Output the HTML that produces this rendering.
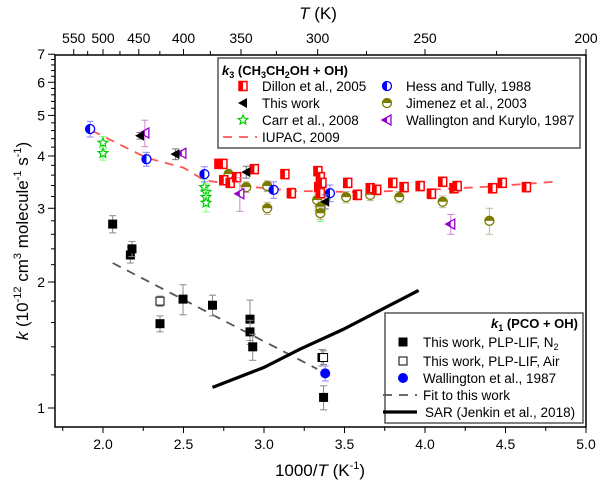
<!DOCTYPE html>
<html><head><meta charset="utf-8"><style>
body{margin:0;background:#fff}
svg{display:block;font-family:"Liberation Sans",Arial,sans-serif}
</style></head><body>
<svg id="chart" width="600" height="486" viewBox="0 0 600 486" xmlns="http://www.w3.org/2000/svg">
<g id="axes"></g>
<g id="series"></g>
<g id="legend1"></g>
<g id="legend2"></g>
<text x="318" y="19" font-size="17" text-anchor="middle"><tspan font-style="italic">T</tspan> (K)</text>
<text x="320" y="476" font-size="17" text-anchor="middle">1000/<tspan font-style="italic">T</tspan>  (K<tspan font-size="11" dy="-7">-1</tspan><tspan dy="7">)</tspan></text>
<text transform="translate(28,241) rotate(-90)" font-size="17" text-anchor="middle"><tspan font-style="italic">k</tspan> (10<tspan font-size="11" dy="-7">-12</tspan><tspan dy="7"> cm</tspan><tspan font-size="11" dy="-7">3</tspan><tspan dy="7"> molecule</tspan><tspan font-size="11" dy="-7">-1</tspan><tspan dy="7"> s</tspan><tspan font-size="11" dy="-7">-1</tspan><tspan dy="7">)</tspan></text>
</svg>
<script>
// ---- data ----
const xTicks=[2.0,2.5,3.0,3.5,4.0,4.5,5.0];
const yTicks=[1,2,3,4,5,6,7];
const topTicks=[550,500,450,400,350,300,250,200];
const dillonX=[2.72,2.745,2.75,2.79,2.83,2.94,3.13,3.17,3.335,3.35,3.34,3.35,3.36,3.52,3.58,3.66,3.70,3.80,3.87,3.97,4.04,4.11,4.18,4.20,4.42,4.48,4.63];
const dillonK=[3.83,3.83,3.50,3.45,3.56,3.72,3.62,3.26,3.68,3.56,3.37,3.26,3.45,3.45,3.23,3.35,3.32,3.45,3.37,3.39,3.25,3.47,3.35,3.39,3.35,3.45,3.37];
const jimX=[2.78,2.89,3.02,3.02,3.33,3.35,3.35,3.51,3.66,3.84,4.11,4.40];
const jimK=[3.62,3.37,3.39,3.00,3.14,3.02,2.92,3.19,3.23,3.19,3.11,2.80];
const jimErr=[0.1,0.1,0.1,0.1,0.1,0.1,0.1,0.1,0.1,0.1,0.1,0.2];
const hessX=[1.92,2.27,2.63,3.06,3.41];
const hessK=[4.64,3.93,3.62,3.32,3.26];
const hessErr=[0.2,0.15,0.15,0.15,0.15];
const triX=[2.23,2.45,2.89,3.38];
const triK=[4.47,4.04,3.66,3.11];
const triErr=[0.08,0.12,0.12,0.12];
const wkX=[2.26,2.49,2.85,4.16];
const wkK=[4.54,4.06,3.25,2.75];
const wkErr=[0.33,0.06,0.3,0.15];
const carrX=[2.00,2.00,2.63,2.64,2.64,2.64,3.35,3.35];
const carrK=[4.30,4.06,3.37,3.28,3.19,3.09,3.06,2.94];
const iupacX=[1.93,2.27,2.5,2.63,2.9,3.2,3.6,4.0,4.4,4.8];
const iupacK=[4.6,3.96,3.75,3.5,3.38,3.3,3.28,3.32,3.38,3.47];
const k1X=[2.06,2.17,2.18,2.354,2.497,2.68,2.913,2.913,2.93,3.36,3.37];
const k1K=[2.75,2.32,2.40,1.59,1.82,1.76,1.63,1.52,1.40,1.32,1.06];
const k1Err=[0.13,0.1,0.1,0.07,0.15,0.1,0.18,0.1,0.1,0.06,0.07];
const airX=[2.354,3.37];
const airK=[1.80,1.32];
const wallX=[3.38];
const wallK=[1.21];
const fitX=[2.06,3.33];
const fitK=[2.22,1.24];
const sarX=[2.68,3.0,3.22,3.49,3.96];
const sarK=[1.12,1.25,1.38,1.54,1.91];

// ---- scales ----
const L=55,R=586,T=55,B=427;
const xs=v=>103+(v-2)*161;
const ys=k=>408-418.6*Math.log10(k);
const NS='http://www.w3.org/2000/svg';
function mk(tag,attrs,parent){const e=document.createElementNS(NS,tag);for(const a in attrs)e.setAttribute(a,attrs[a]);parent.appendChild(e);return e;}
const ax=document.getElementById('axes'),S=document.getElementById('series');

let fr=mk('rect',{x:L,y:T,width:R-L,height:B-T,fill:'none',stroke:'#000','stroke-width':1.5},ax);


for(let v=1.75;v<=5.001;v+=0.25){const x=xs(v);const major=Math.abs(v*2-Math.round(v*2))<1e-6;
 let t=mk('line',{x1:x,x2:x,y1:B,y2:B+(major?6:4),stroke:'#000','stroke-width':1},ax);
 
 }
xTicks.forEach(v=>{let t=mk('text',{x:xs(v),y:B+22,'font-size':14,'text-anchor':'middle'},ax);t.textContent=v.toFixed(1);
 
 });
for(let Tk=550;Tk>=200;Tk-=25){const x=xs(1000/Tk);const major=Tk%50===0;
 let t=mk('line',{x1:x,x2:x,y1:T,y2:T-(major?6:4),stroke:'#000','stroke-width':1},ax);
 
 }
topTicks.forEach(Tk=>{let t=mk('text',{x:xs(1000/Tk),y:T-12,'font-size':14,'text-anchor':'middle'},ax);t.textContent=Tk;
 
 });
for(let k=0.9;k<=7.001;k+=0.1){const r=Math.round(k*10)/10;const major=Math.abs(r-Math.round(r))<1e-6;
 if(!major && Math.round(r*10)%2!==0 && r>1) continue;
 const y=ys(r);if(y>B)continue;
 let t=mk('line',{x1:L,x2:L-(major?7:4),y1:y,y2:y,stroke:'#000','stroke-width':1},ax);
 
 }
yTicks.forEach(k=>{let t=mk('text',{x:L-10,y:ys(k)+5,'font-size':14,'text-anchor':'end'},ax);t.textContent=k;
 
 });

function err(x,k,e,col,g){const X=xs(x),y1=ys(k+e),y2=ys(k-e);
 mk('line',{x1:X,x2:X,y1:y1,y2:y2,stroke:col,'stroke-width':1},g);
 mk('line',{x1:X-3.5,x2:X+3.5,y1:y1,y2:y1,stroke:col,'stroke-width':1},g);
 mk('line',{x1:X-3.5,x2:X+3.5,y1:y2,y2:y2,stroke:col,'stroke-width':1},g);}
const M={
 halfSq:(X,Y,g)=>{mk('rect',{x:X-4,y:Y-4.5,width:8,height:9,fill:'#fff',stroke:'#f00','stroke-width':1.5},g);mk('rect',{x:X-4,y:Y-4.5,width:4,height:9,fill:'#f00'},g);},
 halfCircL:(X,Y,g,c)=>{mk('circle',{cx:X,cy:Y,r:4.5,fill:'#fff',stroke:c,'stroke-width':1.3},g);mk('path',{d:`M${X},${Y-4.5}A4.5,4.5 0 0 0 ${X},${Y+4.5}Z`,fill:c},g);},
 halfCircT:(X,Y,g,c)=>{mk('circle',{cx:X,cy:Y,r:4.5,fill:'#fff',stroke:c,'stroke-width':1.3},g);mk('path',{d:`M${X-4.5},${Y}A4.5,4.5 0 0 1 ${X+4.5},${Y}Z`,fill:c},g);},
 tri:(X,Y,g,c)=>{mk('polygon',{points:`${X-5},${Y} ${X+4},${Y-5} ${X+4},${Y+5}`,fill:c},g);},
 halfTri:(X,Y,g,c)=>{mk('polygon',{points:`${X-5},${Y} ${X+4},${Y-5} ${X+4},${Y+5}`,fill:'#fff',stroke:c,'stroke-width':1.3},g);mk('polygon',{points:`${X-5},${Y} ${X},${Y-2.8} ${X},${Y+2.8}`,fill:c},g);},
 star:(X,Y,g,c)=>{let p=[];for(let i=0;i<10;i++){const r=i%2?2.2:5,a=-Math.PI/2+i*Math.PI/5;p.push((X+r*Math.cos(a)).toFixed(1)+','+(Y+r*Math.sin(a)).toFixed(1));}mk('polygon',{points:p.join(' '),fill:'#fff',stroke:c,'stroke-width':1.2},g);},
 sq:(X,Y,g)=>{mk('rect',{x:X-4.5,y:Y-4.5,width:9,height:9,fill:'#000'},g);},
 osq:(X,Y,g)=>{mk('rect',{x:X-4,y:Y-4,width:8,height:8,fill:'#fff',stroke:'#000','stroke-width':1},g);},
 dot:(X,Y,g)=>{mk('circle',{cx:X,cy:Y,r:5,fill:'#00f'},g);}
};
function line(xa,ka,attrs,name){let d=xa.map((x,i)=>(i?'L':'M')+xs(x).toFixed(1)+','+ys(ka[i]).toFixed(1)).join('');
 let p=mk('path',Object.assign({d:d,fill:'none'},attrs),S);
 
 }
function scatter(xa,ka,ea,ecol,fn,col,name){const g=mk('g',{},S);
 
 
 xa.forEach((x,i)=>{if(ea)err(x,ka[i],ea[i],ecol,g);M[fn](xs(x),ys(ka[i]),g,col);});}

line(iupacX,iupacK,{stroke:'#f55','stroke-width':1.8,'stroke-dasharray':'9,7'},'iupac-line');
line(fitX,fitK,{stroke:'#555','stroke-width':1.8,'stroke-dasharray':'9,7'},'fit-line');
line(sarX,sarK,{stroke:'#000','stroke-width':3.2},'sar-line');
scatter(carrX,carrK,carrK.map(()=>0.15),'#7f7',"star",'#0c0','carr-points');
scatter(jimX,jimK,jimErr,'#bb9','halfCircT','#7a7a00','jimenez-points');
scatter(dillonX,dillonK,dillonK.map(()=>0.09),'#f88','halfSq','#f00','dillon-points');
scatter(hessX,hessK,hessErr,'#88f','halfCircL','#00f','hess-points');
scatter(wkX,wkK,wkErr,'#c8c','halfTri','#90c','wallington-kurylo-points');
scatter(triX,triK,triErr,'#777','tri','#000','this-work-k3-points');
scatter(k1X,k1K,k1Err,'#888','sq','#000','k1-n2-points');
scatter(airX,airK,[0.05,0.05],'#888','osq','#000','k1-air-points');
scatter(wallX,wallK,[0.05],'#88f','dot','#00f','wallington-1987-points');

function legend(gid,box,title,items){const g=document.getElementById(gid);
 mk('rect',Object.assign({fill:'#fff',stroke:'#555','stroke-width':1.5},box),g);
 let t=mk('text',title.attrs,g);t.innerHTML=title.html;
 
 
 items.forEach(it=>{const e=mk('g',{},g);
  
  
  if(it.line)mk('line',Object.assign({x1:it.mx-20,x2:it.mx+14,y1:it.y,y2:it.y},it.line),e);else M[it.m](it.mx,it.y,e,it.c);
  let tx=mk('text',{x:it.tx,y:it.y+5,'font-size':13.5},e);tx.innerHTML=it.label;});}
legend('legend1',{x:218,y:58,width:362,height:90},{attrs:{x:222,y:75,'font-size':13,'font-weight':'bold'},html:'<tspan font-style="italic">k</tspan><tspan font-size="9" dy="3">3</tspan><tspan dy="-3"> (CH</tspan><tspan font-size="9" dy="3">3</tspan><tspan dy="-3">CH</tspan><tspan font-size="9" dy="3">2</tspan><tspan dy="-3">OH + OH)</tspan>'},[
 {m:'halfSq',c:'#f00',mx:243,y:86,tx:262,label:'Dillon et al., 2005'},
 {m:'tri',c:'#000',mx:243,y:103,tx:262,label:'This work'},
 {m:'star',c:'#0c0',mx:243,y:120,tx:262,label:'Carr et al., 2008'},
 {line:{stroke:'#f55','stroke-width':1.8,'stroke-dasharray':'9,7'},mx:243,y:137,tx:262,label:'IUPAC, 2009'},
 {m:'halfCircL',c:'#00f',mx:387,y:86,tx:406,label:'Hess and Tully, 1988'},
 {m:'halfCircT',c:'#7a7a00',mx:387,y:103,tx:406,label:'Jimenez et al., 2003'},
 {m:'halfTri',c:'#90c',mx:387,y:120,tx:406,label:'Wallington and Kurylo, 1987'}]);
legend('legend2',{x:385,y:313,width:198,height:110},{attrs:{x:578,y:328,'font-size':13,'font-weight':'bold','text-anchor':'end'},html:'<tspan font-style="italic">k</tspan><tspan font-size="9" dy="3">1</tspan><tspan dy="-3"> (PCO + OH)</tspan>'},[
 {m:'sq',mx:403,y:342,tx:423,label:'This work, PLP-LIF, N<tspan font-size="9" dy="3">2</tspan>'},
 {m:'osq',mx:403,y:361,tx:423,label:'This work, PLP-LIF, Air'},
 {m:'dot',mx:403,y:378,tx:423,label:'Wallington et al., 1987'},
 {line:{stroke:'#555','stroke-width':1.8,'stroke-dasharray':'9,7'},mx:403,y:395,tx:423,label:'Fit to this work'},
 {line:{stroke:'#000','stroke-width':3.2},mx:403,y:412,tx:425,label:'SAR (Jenkin et al., 2018)'}]);
</script>
</body></html>
